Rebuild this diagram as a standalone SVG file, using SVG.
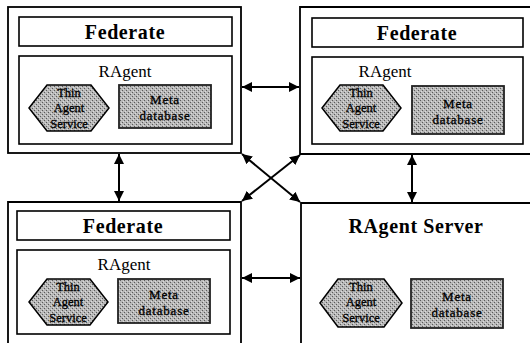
<svg xmlns="http://www.w3.org/2000/svg" width="530" height="343" viewBox="0 0 530 343">
<style>
.outer{fill:none;stroke:#000;stroke-width:1.8}
.bar{fill:#fff;stroke:#000;stroke-width:1.6}
.hex{fill:url(#dots);stroke:#000;stroke-width:1.5}
.meta{fill:url(#dots);stroke:#222;stroke-width:1.8}
.t-fed{font-family:"Liberation Serif",serif;font-weight:bold;font-size:20px;text-anchor:middle;fill:#000;letter-spacing:0.6px}
.t-ra{font-family:"Liberation Serif",serif;font-size:17px;text-anchor:middle;fill:#000}
.t-sm{font-family:"Liberation Serif",serif;font-size:12.5px;text-anchor:middle;fill:#000;stroke:#000;stroke-width:0.3}
.t-mt{font-family:"Liberation Serif",serif;font-size:13px;text-anchor:middle;fill:#000;stroke:#000;stroke-width:0.3;letter-spacing:0.8px}
.conn{stroke:#000;stroke-width:2;fill:none}
</style>
<defs>
<pattern id="dots" width="4" height="4" patternUnits="userSpaceOnUse">
<rect width="4" height="4" fill="#b8b8b8"/>
<rect x="0" y="0" width="1" height="1" fill="#5a5a5a"/>
<rect x="2" y="2" width="1" height="1" fill="#5a5a5a"/>
<rect x="3" y="1" width="1" height="1" fill="#dcdcdc"/>
<rect x="1" y="3" width="1" height="1" fill="#dcdcdc"/>
</pattern>
<marker id="ah" viewBox="0 0 10 10" refX="10" refY="5" markerWidth="10" markerHeight="10" markerUnits="userSpaceOnUse" orient="auto-start-reverse">
<path d="M0,0 L10,5 L0,10 Z" fill="#000"/>
</marker>
</defs>

<g id="federate-top-left">
<rect class="outer" x="8" y="7" width="233" height="146"/>
<rect class="bar" x="19" y="17" width="213" height="29"/>
<text class="t-fed" x="125" y="39">Federate</text>
<rect class="bar" x="19" y="56" width="213" height="88"/>
<text class="t-ra" x="125" y="77">RAgent</text>
<polygon class="hex" points="29,108 47,85 91,85 109,108 91,131 47,131"/>
<text class="t-sm" x="69" y="97">Thin</text>
<text class="t-sm" x="69" y="112">Agent</text>
<text class="t-sm" x="69" y="128">Service</text>
<rect class="meta" x="119" y="85" width="92" height="43"/>
<text class="t-mt" x="165" y="104">Meta</text>
<text class="t-mt" x="165" y="120">database</text>
</g>

<g id="federate-top-right">
<path class="outer" d="M531,7 H300 V154 H531"/>
<rect class="bar" x="312" y="18" width="211" height="29"/>
<text class="t-fed" x="417" y="40">Federate</text>
<rect class="bar" x="312" y="57" width="211" height="87"/>
<text class="t-ra" x="385" y="77">RAgent</text>
<polygon class="hex" points="322,108 340,85 383,85 401,108 383,131 340,131"/>
<text class="t-sm" x="361" y="97">Thin</text>
<text class="t-sm" x="361" y="112">Agent</text>
<text class="t-sm" x="361" y="128">Service</text>
<rect class="meta" x="412" y="86" width="92" height="48"/>
<text class="t-mt" x="458" y="108">Meta</text>
<text class="t-mt" x="458" y="124">database</text>
</g>

<g id="federate-bottom-left">
<path class="outer" d="M8,344 V202 H241 V344"/>
<rect class="bar" x="17" y="211" width="213" height="29"/>
<text class="t-fed" x="123" y="233">Federate</text>
<rect class="bar" x="17" y="250" width="213" height="84"/>
<text class="t-ra" x="124" y="270">RAgent</text>
<polygon class="hex" points="29,302 47,279 90,279 108,302 90,325 47,325"/>
<text class="t-sm" x="68" y="291">Thin</text>
<text class="t-sm" x="68" y="306">Agent</text>
<text class="t-sm" x="68" y="322">Service</text>
<rect class="meta" x="118" y="279" width="92" height="44"/>
<text class="t-mt" x="164" y="299">Meta</text>
<text class="t-mt" x="164" y="315">database</text>
</g>

<g id="ragent-server">
<path class="outer" d="M531,203 H301 V344"/>
<text class="t-fed" x="416" y="233">RAgent Server</text>
<polygon class="hex" points="320,303 338,279 384,279 402,303 384,327 338,327"/>
<text class="t-sm" x="361" y="291">Thin</text>
<text class="t-sm" x="361" y="306">Agent</text>
<text class="t-sm" x="361" y="322">Service</text>
<rect class="meta" x="411" y="279" width="92" height="49"/>
<text class="t-mt" x="457" y="301">Meta</text>
<text class="t-mt" x="457" y="317">database</text>
</g>

<g id="connectors">
<line class="conn" x1="242" y1="87" x2="299" y2="87" marker-start="url(#ah)" marker-end="url(#ah)"/>
<line class="conn" x1="242" y1="278" x2="300" y2="278" marker-start="url(#ah)" marker-end="url(#ah)"/>
<line class="conn" x1="119" y1="154" x2="119" y2="201" marker-start="url(#ah)" marker-end="url(#ah)"/>
<line class="conn" x1="412" y1="155" x2="412" y2="202" marker-start="url(#ah)" marker-end="url(#ah)"/>
<line class="conn" x1="242" y1="154" x2="300" y2="202" marker-start="url(#ah)" marker-end="url(#ah)"/>
<line class="conn" x1="300" y1="155" x2="242" y2="201" marker-start="url(#ah)" marker-end="url(#ah)"/>
</g>
</svg>
